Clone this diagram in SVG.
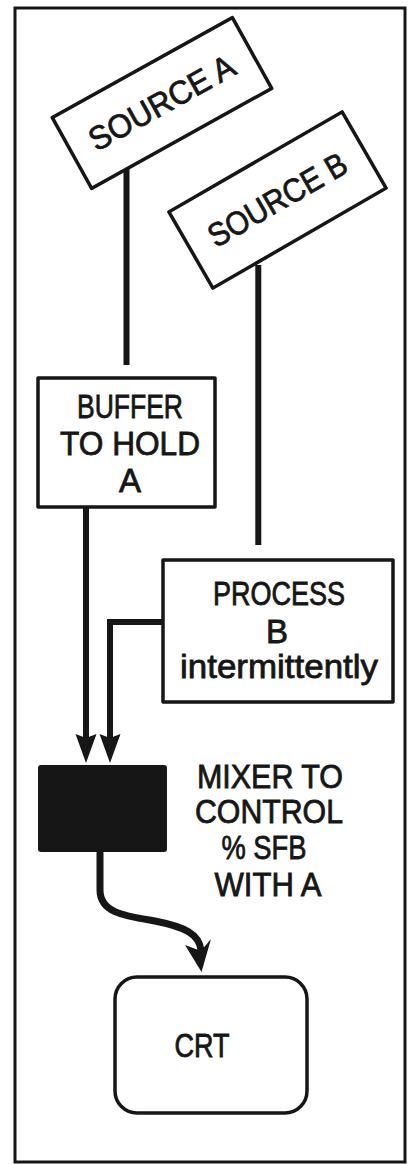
<svg xmlns="http://www.w3.org/2000/svg" width="409" height="1164" viewBox="0 0 409 1164">
<style>
.box{fill:#fff;stroke:#161616;stroke-width:3.5;stroke-linejoin:round}
.lbl{font-family:"Liberation Sans",Arial,sans-serif;font-size:33px;fill:#161616;stroke:#161616;stroke-width:0.8;text-anchor:middle}
.wire{fill:none;stroke:#161616;stroke-width:6;stroke-linejoin:miter}
</style>
<defs>
<marker id="ah" markerUnits="userSpaceOnUse" viewBox="0 -11 30 22" refX="6" refY="0" markerWidth="30" markerHeight="22" orient="auto">
<path d="M0,-10.5 L29,0 L0,10.5 L4,0 Z" fill="#161616"/>
</marker>
</defs>
<rect x="0" y="0" width="409" height="1164" fill="#fff"/>
<rect x="15" y="8" width="390" height="1154" fill="none" stroke="#161616" stroke-width="3"/>
<g id="connectors">
<path class="wire" d="M126.5,165 L126.5,365"/>
<path class="wire" d="M258.3,265 L258.3,545"/>
<path class="wire" d="M86,507 L86,740" marker-end="url(#ah)"/>
<path class="wire" d="M163,622 L110,622 L110,740" marker-end="url(#ah)"/>
<path class="wire" style="stroke-width:7;stroke-linecap:round" d="M100,853 L100,890 C100,913 125,916 155,921 C185,927 199,934 201,950"/>
<path d="M185,945 L201.5,972 L211,939 L201,951 Z" fill="#161616"/>
</g>
<g id="sourceA" transform="translate(162,103) rotate(-29.05)">
<rect class="box" x="-103" y="-40.5" width="206" height="81"/>
<text class="lbl" x="0" y="11" textLength="162" lengthAdjust="spacingAndGlyphs">SOURCE A</text>
</g>
<g id="sourceB" transform="translate(277.5,200) rotate(-30)">
<rect class="box" x="-100" y="-44" width="200" height="88"/>
<text class="lbl" x="0" y="11" textLength="155" lengthAdjust="spacingAndGlyphs">SOURCE B</text>
</g>
<g id="buffer">
<rect class="box" x="38" y="378" width="177" height="129"/>
<text class="lbl" x="130" y="418" textLength="106" lengthAdjust="spacingAndGlyphs">BUFFER</text>
<text class="lbl" x="130" y="455" textLength="140" lengthAdjust="spacingAndGlyphs">TO HOLD</text>
<text class="lbl" x="130" y="492">A</text>
</g>
<g id="process">
<rect class="box" x="163" y="560" width="230" height="142"/>
<text class="lbl" x="279" y="605" textLength="132" lengthAdjust="spacingAndGlyphs">PROCESS</text>
<text class="lbl" x="277" y="643">B</text>
<text class="lbl" x="279" y="678" textLength="198" lengthAdjust="spacingAndGlyphs">intermittently</text>
</g>
<g id="mixer">
<rect x="38" y="765" width="129" height="87" rx="3" fill="#161616"/>
<text class="lbl" x="270" y="788" textLength="146" lengthAdjust="spacingAndGlyphs">MIXER TO</text>
<text class="lbl" x="269" y="823" textLength="148" lengthAdjust="spacingAndGlyphs">CONTROL</text>
<text class="lbl" x="264" y="859" textLength="85" lengthAdjust="spacingAndGlyphs">% SFB</text>
<text class="lbl" x="268" y="896" textLength="107" lengthAdjust="spacingAndGlyphs">WITH A</text>
</g>
<g id="crt">
<rect class="box" x="115" y="977" width="192" height="136" rx="22"/>
<text class="lbl" x="202" y="1057" textLength="55" lengthAdjust="spacingAndGlyphs">CRT</text>
</g>
</svg>
